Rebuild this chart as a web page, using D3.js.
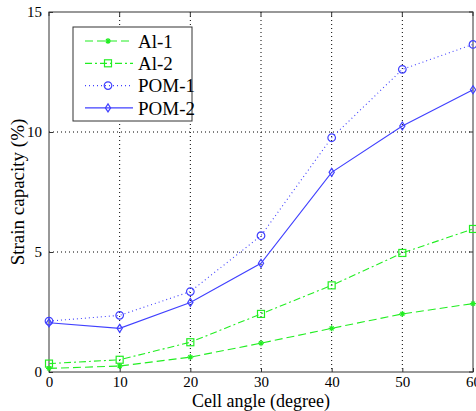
<!DOCTYPE html>
<html>
<head>
<script src="https://cdn.jsdelivr.net/npm/d3@7"></script>
</head>
<body style="margin:0">
<script>
// data
const angles = [0, 10, 20, 30, 40, 50, 60];
const al1 = [0.15, 0.25, 0.62, 1.2, 1.82, 2.42, 2.85];
const al2 = [0.35, 0.51, 1.24, 2.42, 3.61, 4.96, 5.96];
const pom1 = [2.12, 2.36, 3.35, 5.68, 9.76, 12.61, 13.65];
const pom2 = [2.05, 1.82, 2.9, 4.53, 8.32, 10.25, 11.76];
const xTicks = [0, 10, 20, 30, 40, 50, 60];
const yTicks = [0, 5, 10, 15];

const serif = "Times New Roman";
const width = 476, height = 411;
const margin = { top: 12, right: 3, bottom: 39, left: 49 };
const w = width - margin.left - margin.right;
const h = height - margin.top - margin.bottom;

const svg = d3.select("body").append("svg")
  .attr("width", width).attr("height", height);
const g = svg.append("g").attr("transform", `translate(${margin.left},${margin.top})`);

const x = d3.scaleLinear().domain([0, 60]).range([0, w]);
const y = d3.scaleLinear().domain([0, 15]).range([h, 0]);

// grid (dotted)
g.append("g").selectAll("line").data(xTicks.slice(1, -1)).enter().append("line")
  .attr("x1", d => x(d)).attr("x2", d => x(d)).attr("y1", 0).attr("y2", h)
  .attr("stroke", "#000").attr("stroke-width", 1).attr("stroke-dasharray", "1,3");
g.append("g").selectAll("line").data(yTicks.slice(1, -1)).enter().append("line")
  .attr("x1", 0).attr("x2", w).attr("y1", d => y(d)).attr("y2", d => y(d))
  .attr("stroke", "#000").attr("stroke-width", 1).attr("stroke-dasharray", "1,3");

// axes
const xAxis = d3.axisBottom(x).tickValues(xTicks).tickSizeInner(-4).tickSizeOuter(0).tickPadding(6);
const yAxis = d3.axisLeft(y).tickValues(yTicks).tickSizeInner(-4).tickSizeOuter(0).tickPadding(7);
const gx = g.append("g").attr("transform", `translate(0,${h})`).call(xAxis);
const gy = g.append("g").call(yAxis);
[gx, gy].forEach(a => {
  a.attr("font-family", null);
  a.select(".domain").remove();
  a.selectAll("line").attr("stroke", "#333");
  a.selectAll("text").attr("font-size", 15).attr("fill", "#000")
    .style("font-family", serif);
});
gx.selectAll("text").attr("dy", "0.6em");
// top ticks / right ticks
g.append("g").selectAll("line").data(xTicks).enter().append("line")
  .attr("x1", d => x(d)).attr("x2", d => x(d)).attr("y1", 0).attr("y2", 4).attr("stroke", "#333");
g.append("g").selectAll("line").data(yTicks).enter().append("line")
  .attr("x1", w).attr("x2", w - 4).attr("y1", d => y(d)).attr("y2", d => y(d)).attr("stroke", "#333");

g.append("rect").attr("x", 0).attr("y", 0).attr("width", w).attr("height", h)
  .attr("fill", "none").attr("stroke", "#333").attr("stroke-width", 1);

const series = [
  { name: "Al-1", values: al1, color: "#22ee22", dash: "8,4", marker: "star" },
  { name: "Al-2", values: al2, color: "#22ee22", dash: "7,3,2,3", marker: "square" },
  { name: "POM-1", values: pom1, color: "#4040ff", dash: "1,3", marker: "circle" },
  { name: "POM-2", values: pom2, color: "#4040ff", dash: null, marker: "diamond" }
];

const line = d3.line().x((d, i) => x(angles[i])).y(d => y(d));

function drawMarker(sel, type, color) {
  if (type === "star") {
    sel.append("path").attr("d", "M-3,0H3M0,-3V3M-2,-2L2,2M-2,2L2,-2")
      .attr("stroke", color).attr("stroke-width", 1.2).attr("fill", "none");
  } else if (type === "square") {
    sel.append("rect").attr("x", -3.5).attr("y", -3.5).attr("width", 7).attr("height", 7)
      .attr("fill", "none").attr("stroke", color).attr("stroke-width", 1.2);
  } else if (type === "circle") {
    sel.append("circle").attr("r", 3.8).attr("fill", "none").attr("stroke", color).attr("stroke-width", 1.2);
  } else if (type === "diamond") {
    sel.append("path").attr("d", "M0,-4L2.6,0L0,4L-2.6,0Z")
      .attr("fill", "none").attr("stroke", color).attr("stroke-width", 1.2);
  }
}

series.forEach(s => {
  g.append("path").datum(s.values)
    .attr("fill", "none").attr("stroke", s.color).attr("stroke-width", 1.1)
    .attr("stroke-dasharray", s.dash).attr("d", line);
  s.values.forEach((v, i) => {
    const m = g.append("g").attr("transform", `translate(${x(angles[i])},${y(v)})`);
    drawMarker(m, s.marker, s.color);
  });
});

// legend
const lg = svg.append("g").attr("transform", "translate(73,27)");
lg.append("rect").attr("width", 119).attr("height", 94)
  .attr("fill", "#fff").attr("stroke", "#333").attr("stroke-width", 1);
series.forEach((s, i) => {
  const yy = 14 + i * 22.3;
  lg.append("line").attr("x1", 12).attr("x2", 60).attr("y1", yy).attr("y2", yy)
    .attr("stroke", s.color).attr("stroke-width", 1.2).attr("stroke-dasharray", s.dash);
  const m = lg.append("g").attr("transform", `translate(35,${yy})`);
  drawMarker(m, s.marker, s.color);
  lg.append("text").attr("x", 65).attr("y", yy).attr("dy", "0.35em")
    .attr("font-size", 19).style("font-family", serif).text(s.name);
});

// axis titles
svg.append("text").attr("x", margin.left + w / 2).attr("y", 407)
  .attr("text-anchor", "middle").attr("font-size", 18).style("font-family", serif)
  .text("Cell angle (degree)");
svg.append("text").attr("transform", `translate(24,${margin.top + h / 2}) rotate(-90)`)
  .attr("text-anchor", "middle").attr("font-size", 19).style("font-family", serif)
  .text("Strain capacity (%)");
</script>
</body>
</html>
